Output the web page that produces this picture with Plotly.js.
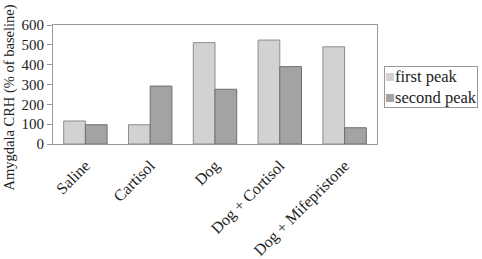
<!DOCTYPE html>
<html><head><meta charset="utf-8">
<script src="https://cdn.plot.ly/plotly-3.0.1.min.js"></script>
<style>html,body{margin:0;padding:0;background:#fff}</style>
</head><body>
<div id="chart" style="width:482px;height:259px"></div>
<script>
const categories = ["Saline", "Cartisol", "Dog", "Dog + Cortisol", "Dog + Mifepristone"];
const firstPeak = [116, 97, 511, 524, 490];
const secondPeak = [97, 292, 276, 390, 82];
const seriesNames = ["first peak", "second peak"];
const yTicks = [0, 100, 200, 300, 400, 500, 600];
const yTitle = "Amygdala CRH (% of baseline)";

const font = "Liberation Serif, Times New Roman, serif";
const c1 = "#d2d2d2", c2 = "#a3a3a3";

const traces = [
  {type: "bar", name: seriesNames[0], x: categories, y: firstPeak,
   marker: {color: c1, line: {color: "#8c8c8c", width: 1}}, showlegend: false},
  {type: "bar", name: seriesNames[1], x: categories, y: secondPeak,
   marker: {color: c2, line: {color: "#6e6e6e", width: 1}}, showlegend: false}
];

const layout = {
  width: 482, height: 259,
  margin: {l: 53, r: 105, t: 25, b: 115, autoexpand: false},
  paper_bgcolor: "#fff", plot_bgcolor: "#fff",
  barmode: "group", bargap: 0.33, bargroupgap: 0,
  font: {family: font, color: "#222", size: 15},
  xaxis: {
    tickangle: -45, tickfont: {size: 16}, showline: true, linecolor: "#999",
    mirror: true, ticks: "", showgrid: false, zeroline: false, automargin: false,
    ticklabelstandoff: 5
  },
  yaxis: {
    range: [0, 600], tickvals: yTicks, ticktext: yTicks.map(String),
    showline: true, linecolor: "#999", mirror: true, ticks: "outside",
    ticklen: 5, tickcolor: "#999", showgrid: false, zeroline: false,
    tickfont: {size: 15}, automargin: false
  },
  annotations: [{
    xref: "paper", yref: "paper", x: 1.0216, y: 0.655, xanchor: "left", yanchor: "top",
    align: "left", showarrow: false,
    text: "<span style='color:" + c1 + "'>■</span>" + seriesNames[0] +
          "<br><span style='color:" + c2 + "'>■</span>" + seriesNames[1],
    font: {size: 16.5, family: font, color: "#222"},
    bordercolor: "#999", borderwidth: 1, borderpad: 0, bgcolor: "#fff"
  }, {
    xref: "paper", yref: "paper", x: -0.133, y: 0.39, xanchor: "center", yanchor: "middle",
    textangle: -90, showarrow: false, text: yTitle,
    font: {size: 14.5, family: font, color: "#222"}
  }]
};

Plotly.newPlot("chart", traces, layout, {displayModeBar: false, staticPlot: true});
</script>
</body></html>
